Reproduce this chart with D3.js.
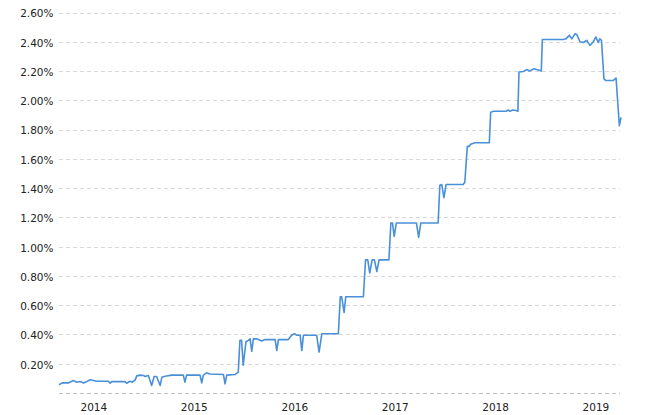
<!DOCTYPE html>
<html>
<head>
<meta charset="utf-8">
<script src="https://cdn.jsdelivr.net/npm/d3@7"></script>
<style>
  html, body { margin: 0; padding: 0; background: #fff; }
  svg { display: block; }
  text { font-family: "DejaVu Sans", Verdana, sans-serif; fill: #222; }
</style>
</head>
<body>
<svg id="chart" width="658" height="415"></svg>
<script>
// Effective rate (%) by date
const dates = [
  "2014-02-26","2014-03-10","2014-04-01","2014-04-19","2014-05-02","2014-05-14","2014-05-26","2014-06-07","2014-06-19","2014-07-01",
  "2014-07-13","2014-08-25","2014-08-31","2014-09-06","2014-10-24","2014-10-30","2014-11-11","2014-11-20","2014-11-30","2014-12-06",
  "2014-12-18","2014-12-30","2015-01-05","2015-01-17","2015-01-29","2015-02-07","2015-02-16","2015-03-01","2015-03-07","2015-03-19",
  "2015-04-12","2015-05-24","2015-05-30","2015-06-05","2015-07-24","2015-07-30","2015-08-05","2015-08-17","2015-08-29","2015-10-17",
  "2015-10-23","2015-10-29","2015-11-28","2015-12-10","2015-12-16","2015-12-22","2015-12-28","2016-01-07","2016-01-16","2016-01-22",
  "2016-01-28","2016-02-03","2016-02-15","2016-03-04","2016-03-16","2016-04-22","2016-04-28","2016-05-04","2016-06-09","2016-06-21",
  "2016-07-01","2016-07-10","2016-07-22","2016-07-28","2016-08-03","2016-09-20","2016-09-29","2016-10-09","2016-12-08","2016-12-15",
  "2016-12-20","2016-12-29","2017-01-04","2017-03-09","2017-03-17","2017-03-25","2017-04-01","2017-04-10","2017-04-18","2017-04-27",
  "2017-05-05","2017-06-10","2017-06-17","2017-06-23","2017-06-29","2017-07-07","2017-09-18","2017-09-26","2017-10-04","2017-12-06",
  "2017-12-12","2017-12-19","2017-12-27","2018-01-04","2018-03-07","2018-03-13","2018-03-22","2018-03-29","2018-04-03","2018-04-19",
  "2018-06-10","2018-06-15","2018-06-25","2018-08-10","2018-08-18","2018-08-24","2018-09-03","2018-09-15","2018-09-22","2018-09-26",
  "2018-10-12","2018-10-24","2018-11-03","2018-11-20","2018-11-29","2018-12-11","2018-12-16","2018-12-20","2019-03-06","2019-03-16",
  "2019-03-28","2019-04-06","2019-04-18","2019-04-24","2019-05-06","2019-05-18","2019-05-30","2019-06-11","2019-06-23","2019-07-03",
  "2019-07-11","2019-07-17","2019-07-23","2019-08-01","2019-08-08","2019-08-22","2019-09-03","2019-09-14","2019-09-26","2019-10-02"
];
const rates = [
  0.056,0.069,0.069,0.085,0.074,0.078,0.069,0.078,0.090,0.085,
  0.080,0.080,0.067,0.078,0.078,0.067,0.080,0.074,0.090,0.117,
  0.122,0.120,0.113,0.120,0.051,0.113,0.113,0.051,0.108,0.115,
  0.122,0.122,0.074,0.122,0.122,0.069,0.122,0.138,0.130,0.126,
  0.062,0.122,0.126,0.142,0.360,0.360,0.190,0.350,0.360,0.370,
  0.285,0.370,0.370,0.355,0.365,0.365,0.290,0.365,0.365,0.395,
  0.405,0.395,0.395,0.290,0.395,0.395,0.280,0.405,0.405,0.658,
  0.658,0.550,0.658,0.658,0.910,0.910,0.820,0.910,0.910,0.830,
  0.910,0.910,1.162,1.162,1.070,1.162,1.162,1.063,1.162,1.162,
  1.420,1.425,1.335,1.425,1.425,1.440,1.685,1.685,1.700,1.710,
  1.710,1.918,1.925,1.925,1.934,1.925,1.934,1.930,1.925,2.193,
  2.197,2.210,2.200,2.215,2.210,2.204,2.200,2.415,2.415,2.420,
  2.445,2.420,2.455,2.450,2.400,2.395,2.410,2.375,2.400,2.433,
  2.395,2.420,2.410,2.147,2.135,2.135,2.135,2.152,1.826,1.884
];
const yTickValues = [0.2,0.4,0.6,0.8,1.0,1.2,1.4,1.6,1.8,2.0,2.2,2.4,2.6];
const yearLabels = ["2014","2015","2016","2017","2018","2019"];

const parse = d3.timeParse("%Y-%m-%d");
const data = dates.map((d, i) => ({ date: parse(d), value: rates[i] }));

const svg = d3.select("#chart");
const x = d3.scaleTime().domain(d3.extent(data, d => d.date)).range([59, 621]);
const y = d3.scaleLinear().domain([0, 2.6]).range([393, 12.5]);

// gridlines
svg.append("g").selectAll("line").data(yTickValues).join("line")
  .attr("x1", 59).attr("x2", 620)
  .attr("y1", d => Math.round(y(d)) + 0.5).attr("y2", d => Math.round(y(d)) + 0.5)
  .attr("stroke", "#d8d8d8").attr("stroke-width", 1).attr("stroke-dasharray", "4,3");

// baseline
svg.append("line")
  .attr("x1", 59).attr("x2", 620)
  .attr("y1", Math.round(y(0)) + 0.5).attr("y2", Math.round(y(0)) + 0.5)
  .attr("stroke", "#c0c0c0").attr("stroke-width", 1).attr("stroke-dasharray", "4,3");

// y axis
const yAxis = d3.axisLeft(y).tickValues(yTickValues).tickSize(0).tickPadding(0)
  .tickFormat(d => d3.format(".2f")(d) + "%");
const gy = svg.append("g").attr("transform", "translate(53.5,1)").call(yAxis);
gy.select(".domain").remove();
gy.selectAll("text").style("font-size", "10.5px").attr("fill", "#222")
  .style("font-family", "'DejaVu Sans', Verdana, sans-serif");

// x axis (labels centered mid-year)
const yearDates = yearLabels.map(yv => new Date(+yv, 6, 1));
const xAxis = d3.axisBottom(x).tickValues(yearDates).tickSize(0).tickPadding(0)
  .tickFormat((d, i) => yearLabels[i]);
const gx = svg.append("g").attr("transform", "translate(0,404)").call(xAxis);
gx.select(".domain").remove();
gx.selectAll("text").style("font-size", "10.5px").attr("fill", "#222")
  .style("font-family", "'DejaVu Sans', Verdana, sans-serif");

// line
const line = d3.line().x(d => x(d.date)).y(d => y(d.value));
svg.append("path").datum(data)
  .attr("fill", "none").attr("stroke", "#4a90d9").attr("stroke-width", 1.6)
  .attr("stroke-linejoin", "round")
  .attr("d", line);
</script>
</body>
</html>
